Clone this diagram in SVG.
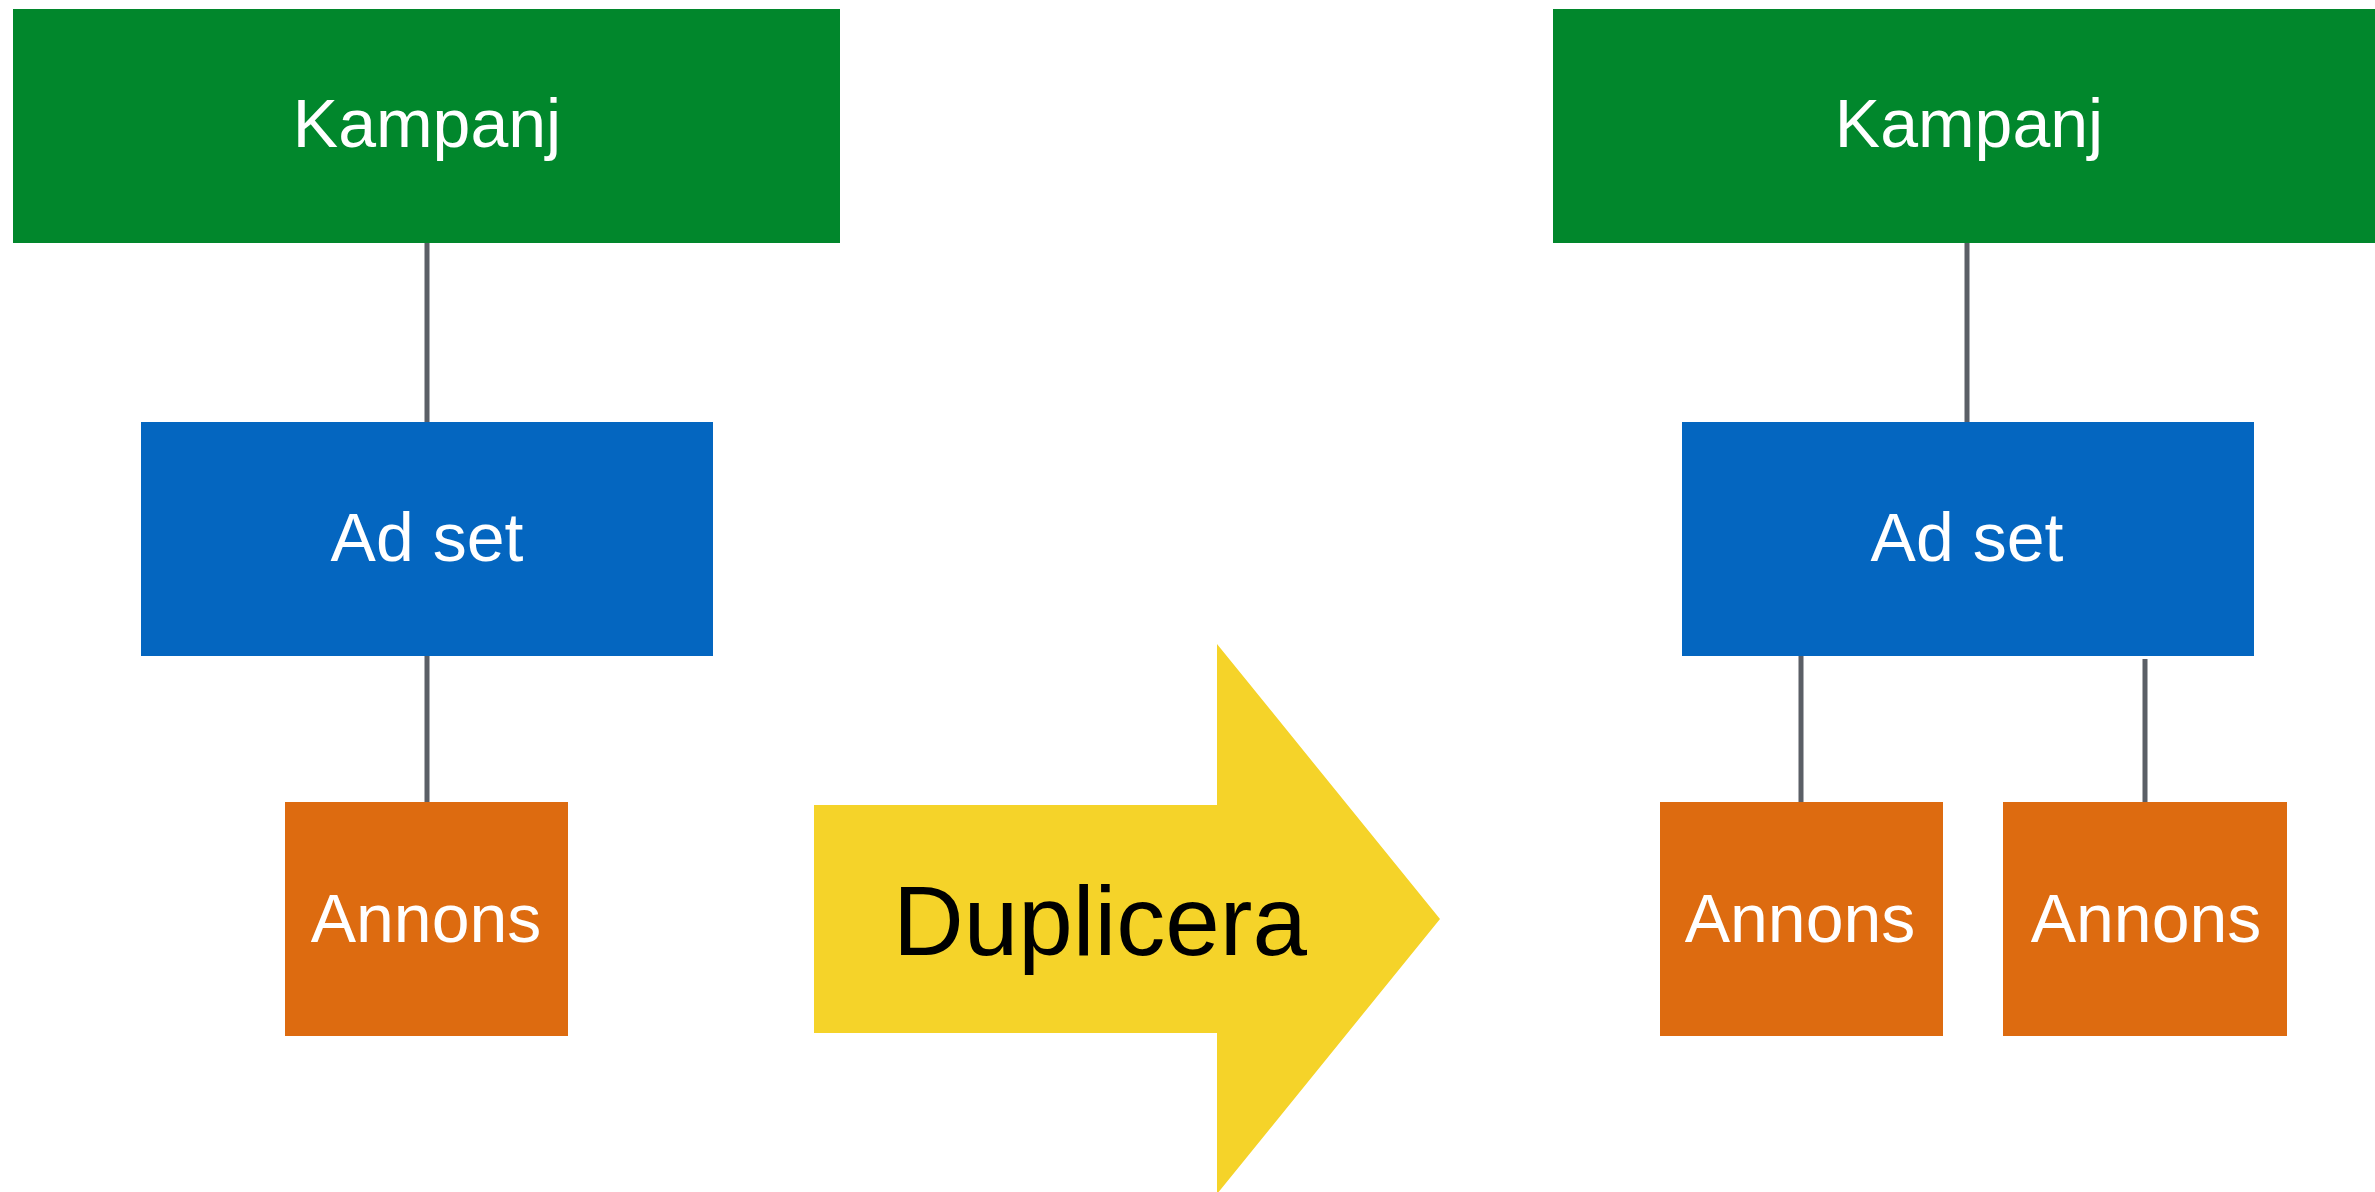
<svg xmlns="http://www.w3.org/2000/svg" width="2375" height="1192" viewBox="0 0 2375 1192">
<style>
.kamp{fill:#01872C}
.adset{fill:#0466C0}
.ad{fill:#DD6B10}
.lbl{font-family:"Liberation Sans",Arial,sans-serif;font-size:68px;fill:#FFFFFF;text-anchor:middle}
.big{font-family:"Liberation Sans",Arial,sans-serif;font-size:98px;fill:#000000;text-anchor:middle}
.conn line{stroke:#5B5F66;stroke-width:5}
</style>
<rect width="2375" height="1192" fill="#FFFFFF"/>
<g id="connectors" class="conn">
<line x1="427" y1="243" x2="427" y2="422"/>
<line x1="427" y1="656" x2="427" y2="802"/>
<line x1="1967" y1="243" x2="1967" y2="422"/>
<line x1="1801" y1="656" x2="1801" y2="802"/>
<line x1="2145" y1="659" x2="2145" y2="802"/>
</g>
<g id="kampanj-left"><rect class="kamp" x="13" y="9" width="827" height="234"/><text class="lbl" x="427" y="147">Kampanj</text></g>
<g id="adset-left"><rect class="adset" x="141" y="422" width="572" height="234"/><text class="lbl" x="427" y="561">Ad set</text></g>
<g id="annons-left"><rect class="ad" x="285" y="802" width="283" height="234"/><text class="lbl" x="426" y="942">Annons</text></g>
<g id="duplicera"><polygon fill="#F5D329" points="814,805 1217,805 1217,644 1440,919 1217,1194 1217,1033 814,1033"/><text class="big" x="1100" y="955">Duplicera</text></g>
<g id="kampanj-right"><rect class="kamp" x="1553" y="9" width="830" height="234"/><text class="lbl" x="1969" y="147">Kampanj</text></g>
<g id="adset-right"><rect class="adset" x="1682" y="422" width="572" height="234"/><text class="lbl" x="1967" y="561">Ad set</text></g>
<g id="annons-right-1"><rect class="ad" x="1660" y="802" width="283" height="234"/><text class="lbl" x="1800" y="942">Annons</text></g>
<g id="annons-right-2"><rect class="ad" x="2003" y="802" width="284" height="234"/><text class="lbl" x="2146" y="942">Annons</text></g>
</svg>
